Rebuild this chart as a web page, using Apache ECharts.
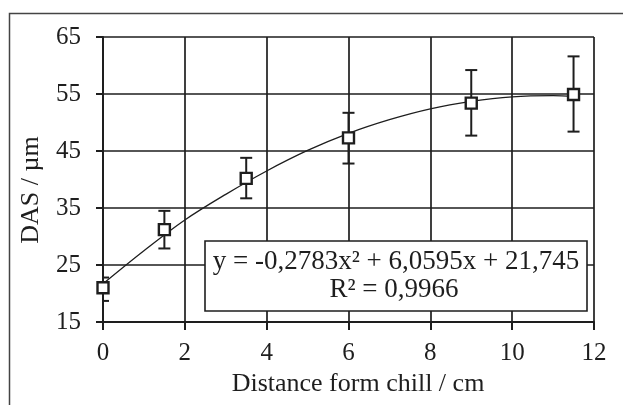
<!DOCTYPE html>
<html><head><meta charset="utf-8">
<script src="https://cdn.jsdelivr.net/npm/echarts@6/dist/echarts.min.js"></script>
<style>html,body{margin:0;padding:0;background:#fff}#c{width:623px;height:405px}</style>
</head><body><div id="c"></div>
<script>
const distance = [0, 1.5, 3.5, 6, 9, 11.5];
const das = [21.0, 31.2, 40.2, 47.3, 53.4, 54.9];
const errLow = [18.7, 27.9, 36.7, 42.8, 47.7, 48.4];
const errHigh = [22.8, 34.5, 43.8, 51.7, 59.2, 61.6];
const trendX = [0, 1, 2, 3, 4, 5, 6, 7, 8, 9, 10, 11, 11.5];
const trendY = [21.7, 27.5, 32.9, 37.4, 41.5, 45.1, 48.1, 50.5, 52.4, 53.7, 54.5, 54.7, 54.6];
const xTicks = [0, 2, 4, 6, 8, 10, 12];
const yTicks = [15, 25, 35, 45, 55, 65];
const xTitle = 'Distance form chill / cm';
const yTitle = 'DAS / µm';
const equation = 'y = -0,2783x² + 6,0595x + 21,745';
const rSquared = 'R² = 0,9966';

const FONT = '"Liberation Serif", "Times New Roman", serif';
const INK = '#1e1e1e';
const chart = echarts.init(document.getElementById('c'), null, {renderer: 'canvas'});

const points = distance.map((x, i) => [x, das[i]]);
const errs = distance.map((x, i) => [x, errLow[i], errHigh[i]]);
const trend = trendX.map((x, i) => [x, trendY[i]]);

chart.setOption({
  animation: false,
  backgroundColor: '#fff',
  grid: {left: 103, right: 29, top: 37, bottom: 83, containLabel: false},
  xAxis: {
    type: 'value', min: xTicks[0], max: xTicks[xTicks.length - 1], interval: xTicks[1] - xTicks[0],
    axisLine: {show: true, onZero: false, lineStyle: {color: INK, width: 2}},
    axisTick: {show: true, length: 8, lineStyle: {color: INK, width: 2}},
    axisLabel: {margin: 19, fontFamily: FONT, fontSize: 25, color: INK},
    splitLine: {show: true, lineStyle: {color: INK, width: 1.7}}
  },
  yAxis: {
    type: 'value', min: yTicks[0], max: yTicks[yTicks.length - 1], interval: yTicks[1] - yTicks[0],
    axisLine: {show: true, onZero: false, lineStyle: {color: INK, width: 2}},
    axisTick: {show: true, length: 7, lineStyle: {color: INK, width: 2}},
    axisLabel: {margin: 22, fontFamily: FONT, fontSize: 25, color: INK},
    splitLine: {show: true, lineStyle: {color: INK, width: 1.7}}
  },
  graphic: [
    {type: 'rect', left: 7, top: 11, shape: {width: 700, height: 500},
     style: {fill: 'none', stroke: '#444', lineWidth: 1.5}, silent: true, z: 0},
    {type: 'text', x: 358, y: 384, style: {text: xTitle, font: '26px ' + FONT, fill: INK,
      textAlign: 'center', textVerticalAlign: 'middle'}, z: 10},
    {type: 'text', x: 31, y: 190, rotation: Math.PI / 2, style: {text: yTitle, font: '26px ' + FONT, fill: INK,
      textAlign: 'center', textVerticalAlign: 'middle'}, z: 10},
    {type: 'rect', shape: {x: 205, y: 241, width: 382, height: 70},
     style: {fill: '#fff', stroke: INK, lineWidth: 1.6}, z: 20},
    {type: 'text', x: 396, y: 262, style: {text: equation, font: '27px ' + FONT, fill: INK,
      textAlign: 'center', textVerticalAlign: 'middle'}, z: 21},
    {type: 'text', x: 394, y: 290, style: {text: rSquared, font: '27px ' + FONT, fill: INK,
      textAlign: 'center', textVerticalAlign: 'middle'}, z: 21}
  ],
  series: [
    {type: 'line', data: trend, smooth: 0.35, showSymbol: false, symbol: 'none',
     lineStyle: {color: INK, width: 1.3}, z: 3},
    {type: 'custom', data: errs, clip: true, z: 4,
     renderItem: function (params, api) {
       const x = api.value(0);
       const pLo = api.coord([x, api.value(1)]);
       const pHi = api.coord([x, api.value(2)]);
       const hw = 6;
       const st = {stroke: INK, lineWidth: 2};
       return {type: 'group', children: [
         {type: 'line', shape: {x1: pLo[0], y1: pLo[1], x2: pHi[0], y2: pHi[1]}, style: st},
         {type: 'line', shape: {x1: pLo[0] - hw, y1: pLo[1], x2: pLo[0] + hw, y2: pLo[1]}, style: st},
         {type: 'line', shape: {x1: pHi[0] - hw, y1: pHi[1], x2: pHi[0] + hw, y2: pHi[1]}, style: st}
       ]};
     }},
    {type: 'scatter', data: points, symbol: 'rect', symbolSize: 11, z: 5,
     itemStyle: {color: '#fff', borderColor: INK, borderWidth: 2.4, opacity: 1}}
  ]
});
</script>
</body></html>
